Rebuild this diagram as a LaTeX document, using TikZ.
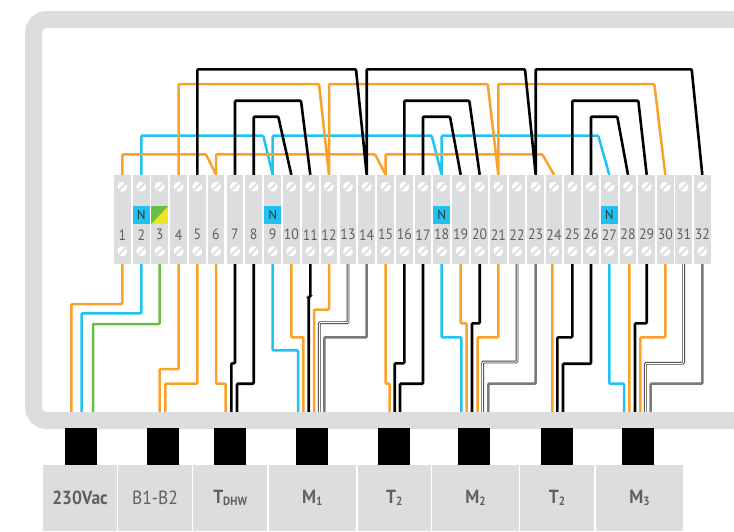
\documentclass[tikz,border=0pt]{standalone}
\usepackage{fontspec}
\usetikzlibrary{calc, backgrounds}
\setmainfont{PT Sans}
\newfontfamily\capfont[FakeStretch = 0.92]{PT Sans}
\definecolor{framegray}{HTML}{DCDDDE}
\definecolor{textgray}{HTML}{5F6062}
\definecolor{wireorange}{HTML}{FAA12C}
\definecolor{wireblue}{HTML}{1FC2F3}
\definecolor{wiregreen}{HTML}{6ABD45}
\definecolor{wiregray}{HTML}{77787B}
\definecolor{tagyellow}{HTML}{EEE522}
\tikzset{
	anywire/.style = {line width = 2.5pt, rounded corners = 1pt},
	orangewire/.style = {anywire, draw = wireorange},
	bluewire/.style = {anywire, draw = wireblue},
	greenwire/.style = {anywire, draw = wiregreen},
	blackwire/.style = {anywire, draw = black, line width = 2.6pt},
	graywire/.style = {anywire, draw = wiregray},
	doublewire/.style = {rounded corners = 1pt, draw = black!75, line width = 0.9pt, double = white, double distance = 1pt},
	terminal/.style = {fill = framegray, minimum width = 16.8pt, minimum height = 89pt, inner sep = 0pt},
	screw/.style = {circle, fill = white, minimum size = 10pt, inner sep = 0pt, path picture = {\draw[framegray, line width = 1.8pt] (path picture bounding box.south west) -- (path picture bounding box.north east);}},
	number/.style = {text = textgray, inner sep = 0pt, font = \capfont\fontsize{15}{15}\selectfont},
	tagbox/.style = {minimum width = 17pt, minimum height = 18pt, inner sep = 0pt, font = \fontsize{13}{13}\selectfont},
	plug/.style = {fill = black, minimum width = 32pt, minimum height = 36.7pt, inner sep = 0pt},
	caption/.style = {fill = framegray, text = textgray, minimum height = 66pt, inner sep = 0pt, font = \capfont\fontsize{19}{19}\selectfont\bfseries}
}
\newcommand{\capsub}[1]{\raisebox{-2.5pt}{\fontsize{12}{12}\selectfont #1}}
\begin{document}
\begin{tikzpicture}[x = 1pt, y = -1pt]
	\useasboundingbox (0,0) rectangle (734,531);
	% terminal strip
	\foreach \n/\x in {1/122.3, 2/141.3, 3/159.7, 4/178.7, 5/197.3, 6/216, 7/235, 8/253.7, 9/272.7, 10/291.3, 11/310.3, 12/329, 13/348, 14/366.7, 15/385.7, 16/404.3, 17/423, 18/441.7, 19/460.7, 20/479.7, 21/498.3, 22/517, 23/535.7, 24/554, 25/572.3, 26/591, 27/609.3, 28/628, 29/646.7, 30/665.3, 31/683.7, 32/702.3}{
		\node[terminal] (T\n) at (\x,219.5) {};
		\node[screw] (S\n) at ($(T\n) + (0,-32.8)$) {};
		\node[screw] (R\n) at ($(T\n) + (0,31.8)$) {};
		\node[number] (N\n) at ($(T\n) + (0,15.2)$) {\n};
	}
	\foreach \n in {2,9,18,27}
		\node[tagbox, fill = wireblue, text = black!80] (G\n) at ($(T\n) + (0,-4.5)$) {N};
	\node[tagbox, fill = tagyellow, path picture = {\fill[wiregreen] (path picture bounding box.south west) -- (path picture bounding box.north west) -- (path picture bounding box.north east) -- cycle;}] (G3) at ($(T3) + (0,-4.5)$) {};
	\begin{scope}[on background layer]
		% wires below the strip
		\foreach \n/\x/\y/\col in {1/71.3/304/orangewire, 2/81.7/313.3/bluewire, 3/93/324/greenwire, 4/159.7/369/orangewire, 5/165.3/383.7/orangewire, 6/225.7/383.7/orangewire, 7/231.3/363.3/blackwire, 8/237/383.7/blackwire, 9/298/350.3/bluewire, 10/303.3/337.3/orangewire, 11/308.7/296.7/blackwire, 12/314/309.7/orangewire, 13/319.3/322.7/doublewire, 14/324.3/337.3/graywire, 15/389.7/383.7/orangewire, 16/394.7/363.3/blackwire, 17/400/383.7/blackwire, 18/461.3/337.3/bluewire, 19/466.7/323.3/orangewire, 20/472/323.3/blackwire, 21/477.7/337.3/orangewire, 22/482.7/362/doublewire, 23/488.3/383.7/graywire, 24/552.3/262/orangewire, 25/557.3/337.3/blackwire, 26/563/363.7/blackwire, 27/624/383.7/bluewire, 28/629.3/262/orangewire, 29/635/323.3/blackwire, 30/640.3/337.3/orangewire, 31/645.3/363.3/doublewire, 32/650.7/383.7/graywire}{
			\coordinate (W\n) at (\x,413);
			\draw[\col] (T\n.south) |- (W\n |- 0,\y) -- (W\n);
		}
		% wires above the strip
		\draw[bluewire]
		(T2.north) |- (263.3,135.7) -- (T9.north)
		(T9.north) |- (431.7,135.7) -- (T18.north)
		(T18.north) |- (598.3,135.7) -- (T27.north);
		\draw[orangewire]
		(T1.north) |- (206,154.3) -- (T6.north)
		(T6.north) |- (375,154.3) -- (T15.north)
		(T15.north) |- (542.3,154.3) -- (T24.north)
		(T4.north) |- (319,84) -- (T12.north)
		(T12.north) |- (487.7,84) -- (T21.north)
		(T21.north) |- (654.3,84) -- (T30.north);
		\draw[blackwire]
		(T5.north) |- (356,69.3) -- (T14.north)
		(T14.north) |- (525,69.3) -- (T23.north)
		(T23.north) |- (691.7,69.3) -- (T32.north)
		(T7.north) |- (301,100.7) -- (T11.north)
		(T16.north) |- (469.3,100.7) -- (T20.north)
		(T25.north) |- (638.3,100.7) -- (T29.north)
		(T8.north) |- (278.3,116.7) -- (T10.north)
		(T17.north) |- (450,116.7) -- (T19.north)
		(T26.north) |- (617.3,116.7) -- (T28.north);
	\end{scope}
	% housing
	\draw[framegray, line width = 17pt, rounded corners = 13pt] (734,19.5) -- (33.5,19.5) -- (33.5,420.5) -- (734,420.5);
	% plugs and captions
	\foreach \n/\x in {1/81, 2/163, 3/230, 4/312, 5/394, 6/474, 7/557, 8/638}
		\node[plug] (J\n) at (\x,446.7) {};
	\node[caption, minimum width = 74pt] (C1) at (80,498) {230Vac};
	\node[caption, minimum width = 74pt, font = \capfont\fontsize{19}{19}\selectfont] (C2) at (155,498) {B1-B2};
	\node[caption, minimum width = 73.7pt] (C3) at (230.2,498) {T\capsub{DHW}};
	\node[caption, minimum width = 86.7pt] (C4) at (312.3,498) {M\capsub{1}};
	\node[caption, minimum width = 73.3pt] (C5) at (394.3,498) {T\capsub{2}};
	\node[caption, minimum width = 87pt] (C6) at (475.5,498) {M\capsub{2}};
	\node[caption, minimum width = 74pt] (C7) at (557,498) {T\capsub{2}};
	\node[caption, minimum width = 87pt] (C8) at (639.5,498) {M\capsub{3}};
\end{tikzpicture}
\end{document}
